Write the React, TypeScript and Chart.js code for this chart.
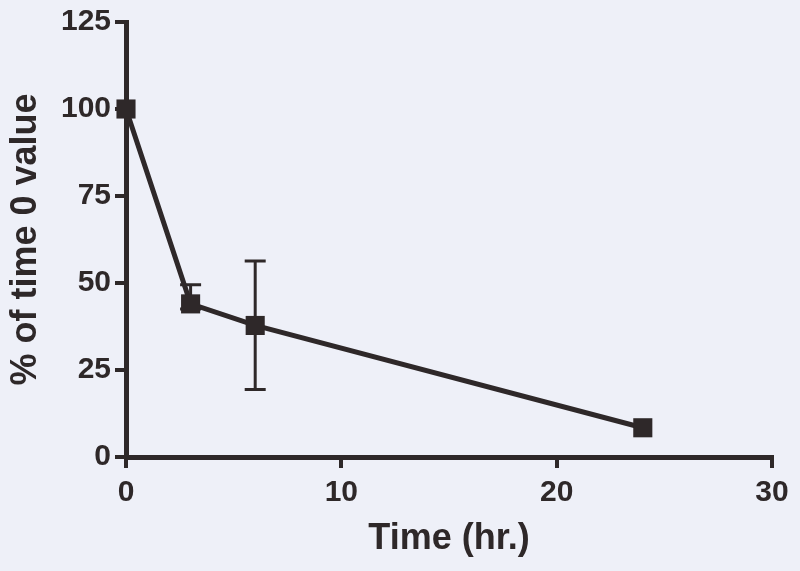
import React, { useEffect, useRef } from "react";
import { Chart, registerables } from "chart.js";

Chart.register(...registerables);

const timeHours = [0, 3, 6, 24];
const percentValues = [100, 44, 37.8, 8.4];
const errorUpper = [0, 5.5, 18.5, 0];
const errorLower = [0, 1.5, 18.4, 0];
const xTicks = [0, 10, 20, 30];
const yTicks = [0, 25, 50, 75, 100, 125];

const INK = "#2e2829";
const BG = "#eef0f8";
const FONT = "'Liberation Sans', Arial, sans-serif";

export default function App() {
  const ref = useRef<HTMLCanvasElement | null>(null);

  useEffect(() => {
    if (!ref.current) return;
    const bgPlugin = {
      id: "bg",
      beforeDraw(chart: any) {
        const { ctx, width, height } = chart;
        ctx.save();
        ctx.fillStyle = BG;
        ctx.fillRect(0, 0, width, height);
        ctx.restore();
      },
    };
    const errPlugin = {
      id: "errbars",
      beforeDatasetsDraw(chart: any) {
        const { ctx, scales } = chart;
        const xs = scales.x;
        const ys = scales.y;
        ctx.save();
        ctx.strokeStyle = INK;
        ctx.lineWidth = 3;
        timeHours.forEach((t, i) => {
          const up = errorUpper[i];
          const lo = errorLower[i];
          if (!up && !lo) return;
          const px = xs.getPixelForValue(t);
          const top = ys.getPixelForValue(percentValues[i] + up);
          const bot = ys.getPixelForValue(percentValues[i] - lo);
          const cap = 10.5;
          ctx.beginPath();
          ctx.moveTo(px, top);
          ctx.lineTo(px, bot);
          ctx.moveTo(px - cap, top);
          ctx.lineTo(px + cap, top);
          ctx.moveTo(px - cap, bot);
          ctx.lineTo(px + cap, bot);
          ctx.stroke();
        });
        ctx.restore();
      },
    };

    const chart = new Chart(ref.current, {
      type: "scatter",
      data: {
        datasets: [
          {
            data: timeHours.map((t, i) => ({ x: t, y: percentValues[i] })),
            showLine: true,
            borderColor: INK,
            borderWidth: 5,
            backgroundColor: INK,
            pointStyle: "rect",
            pointRadius: 13.5,
            pointBorderWidth: 0,
            pointBackgroundColor: INK,
            clip: false,
          } as any,
        ],
      },
      options: {
        animation: false,
        responsive: false,
        devicePixelRatio: 1,
        layout: { padding: { top: 20, right: 28, left: 0, bottom: 0 } },
        plugins: { legend: { display: false }, tooltip: { enabled: false } },
        scales: {
          x: {
            type: "linear",
            min: 0,
            max: 30,
            afterBuildTicks: (s: any) => {
              s.ticks = xTicks.map((v) => ({ value: v }));
            },
            afterFit: (s: any) => {
              s.height = 114;
            },
            ticks: {
              color: INK,
              font: { family: FONT, size: 30, weight: "bold" },
              padding: 7,
            },
            grid: {
              display: true,
              drawOnChartArea: false,
              drawTicks: true,
              tickLength: 11,
              lineWidth: 4,
              color: INK,
            },
            border: { display: true, color: INK, width: 5 },
            title: {
              display: true,
              text: "Time (hr.)",
              color: INK,
              font: { family: FONT, size: 36, weight: "bold", lineHeight: 1 },
              padding: { top: 0, bottom: 14 },
            },
          },
          y: {
            type: "linear",
            min: 0,
            max: 125,
            afterBuildTicks: (s: any) => {
              s.ticks = yTicks.map((v) => ({ value: v }));
            },
            afterFit: (s: any) => {
              s.width = 126;
            },
            ticks: {
              color: INK,
              font: { family: FONT, size: 30, weight: "bold" },
              padding: 4,
            },
            grid: {
              display: true,
              drawOnChartArea: false,
              drawTicks: true,
              tickLength: 11,
              lineWidth: 4,
              color: INK,
            },
            border: { display: true, color: INK, width: 5 },
            title: {
              display: true,
              text: "% of time 0 value",
              color: INK,
              font: { family: FONT, size: 36, weight: "bold", lineHeight: 1 },
              padding: { top: 8, bottom: 0 },
            },
          },
        },
      },
      plugins: [bgPlugin, errPlugin],
    });
    return () => chart.destroy();
  }, []);

  return (
    <div style={{ position: "fixed", left: 0, top: 0, width: 800, height: 571, background: BG }}>
      <canvas ref={ref} width={800} height={571} style={{ display: "block" }} />
    </div>
  );
}
